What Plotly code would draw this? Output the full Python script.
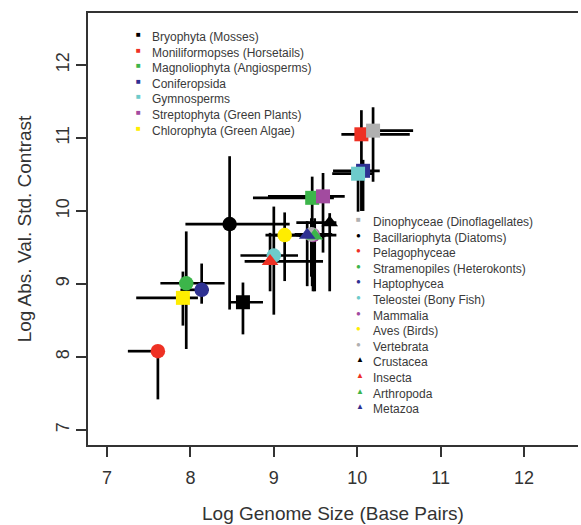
import plotly.graph_objects as go

# ---- data -------------------------------------------------------------
names = [
    "Bryophyta (Mosses)", "Moniliformopses (Horsetails)", "Magnoliophyta (Angiosperms)",
    "Coniferopsida", "Gymnosperms", "Streptophyta (Green Plants)", "Chlorophyta (Green Algae)",
    "Dinophyceae (Dinoflagellates)", "Bacillariophyta (Diatoms)", "Pelagophyceae",
    "Stramenopiles (Heterokonts)", "Haptophycea", "Teleostei (Bony Fish)", "Mammalia",
    "Aves (Birds)", "Vertebrata", "Crustacea", "Insecta", "Arthropoda", "Metazoa",
]
colors = [
    "#000000", "#EE3124", "#3CB54A", "#2E3192", "#6DCBCB", "#A24B9F", "#FFED00",
    "#B0B0B0", "#000000", "#EE3124", "#3CB54A", "#2E3192", "#6DCBCB", "#A24B9F",
    "#FFED00", "#B0B0B0", "#000000", "#EE3124", "#3CB54A", "#2E3192",
]
symbols = ["square"] * 8 + ["circle"] * 8 + ["triangle-up"] * 4
legend_group = [1] * 7 + [2] * 13

genome = [8.63, 10.05, 9.46, 10.07, 10.01, 9.59, 7.91,
          10.19, 8.47, 7.61, 7.95, 8.135, 9.00, 9.47,
          9.13, 9.45, 9.67, 8.955, 9.49, 9.40]
contrast = [8.75, 11.05, 10.18, 10.55, 10.51, 10.20, 8.81,
            11.10, 9.82, 8.08, 9.01, 8.92, 9.39, 9.67,
            9.67, 9.68, 9.84, 9.31, 9.66, 9.67]
genome_lo = [8.47, 9.81, 8.75, 9.71, 9.70, 8.93, 7.35,
             10.00, 7.94, 7.25, 7.64, 7.88, 8.60, 9.27,
             9.00, 9.25, 9.27, 8.65, 9.30, 8.90]
genome_hi = [8.87, 10.63, 9.72, 10.27, 10.20, 9.85, 8.09,
             10.67, 9.19, 7.61, 8.41, 8.22, 9.29, 9.75,
             9.50, 9.70, 9.75, 9.59, 9.62, 9.67]
contrast_lo = [8.31, 10.00, 8.97, 10.00, 9.99, 9.43, 8.43,
               10.40, 8.65, 7.42, 8.11, 8.73, 8.58, 8.90,
               9.04, 9.10, 8.90, 8.90, 8.90, 8.97]
contrast_hi = [9.02, 11.38, 10.47, 10.70, 10.62, 10.52, 9.17,
               11.42, 10.75, 8.08, 9.72, 9.28, 10.06, 9.86,
               9.98, 9.90, 9.97, 9.70, 9.90, 9.86]

x_ticks = [7, 8, 9, 10, 11, 12]
y_ticks = [7, 8, 9, 10, 11, 12]

# ---- figure -----------------------------------------------------------
AX = "#333333"
fig = go.Figure()

# error bars (drawn first so that all markers sit on top)
fig.add_trace(go.Scatter(
    x=genome, y=contrast, mode="markers",
    marker=dict(size=1, color="rgba(0,0,0,0)"),
    error_x=dict(type="data", symmetric=False,
                 array=[h - v for h, v in zip(genome_hi, genome)],
                 arrayminus=[v - l for v, l in zip(genome, genome_lo)],
                 color="#000000", thickness=2.7, width=0),
    error_y=dict(type="data", symmetric=False,
                 array=[h - v for h, v in zip(contrast_hi, contrast)],
                 arrayminus=[v - l for v, l in zip(contrast, contrast_lo)],
                 color="#000000", thickness=2.7, width=0),
    showlegend=False, hoverinfo="skip",
))

size_of = {"square": 14, "circle": 14.5, "triangle-up": 14.5}
for i, n in enumerate(names):
    fig.add_trace(go.Scatter(
        x=[genome[i]], y=[contrast[i]], mode="markers", name=n,
        marker=dict(symbol=symbols[i], color=colors[i], size=size_of[symbols[i]],
                    line=dict(width=0)),
        showlegend=False,
    ))

# ---- legends as text blocks --------------------------------------------
glyph = {"square": "\u25A0", "circle": "\u25CF", "triangle-up": "\u25B2"}
L, R, T, B = 88, 3, 13, 80
W, H = 581, 525
pw, ph = W - L - R, H - T - B
X_RANGE = [6.772, 12.683 - 3 / 83.4]


def px(xp):
    return (xp - L) / pw


def py(yp):
    return (H - B - yp) / ph


def legend_block(group, sym_x, text_x, top_y):
    idx = [i for i in range(len(names)) if legend_group[i] == group]
    sym_txt = "<br>".join(
        f"<span style='color:{colors[i]};font-size:8px'>{glyph[symbols[i]]}</span>" for i in idx)
    lab_txt = "<br>".join(names[i] for i in idx)
    common = dict(xref="paper", yref="paper", showarrow=False, yanchor="top",
                  align="left", borderpad=0,
                  font=dict(family="Liberation Sans, Arial, sans-serif", size=12, color="#3a3a3a"))
    fig.add_annotation(x=px(sym_x), y=py(top_y), text=sym_txt, xanchor="center", **common)
    fig.add_annotation(x=px(text_x), y=py(top_y), text=lab_txt, xanchor="left", **common)


legend_block(1, 138, 151, 29)
legend_block(2, 360, 372, 214)

fig.update_layout(
    width=W, height=H,
    margin=dict(l=L, r=R, t=T, b=B, autoexpand=False),
    plot_bgcolor="white", paper_bgcolor="white",
    font=dict(family="Liberation Sans, Arial, sans-serif", color=AX),
    showlegend=False,
)
fig.update_xaxes(
    range=X_RANGE, tickvals=x_ticks, ticktext=[str(v) for v in x_ticks],
    ticks="outside", ticklen=10, tickwidth=2, tickcolor=AX,
    showline=True, linewidth=2, linecolor=AX, mirror=True,
    showgrid=False, zeroline=False, ticklabelstandoff=5, automargin=False,
    tickfont=dict(size=18, color=AX),
    title=dict(text="Log Genome Size (Base Pairs)", font=dict(size=19, color=AX), standoff=20),
)
fig.update_yaxes(
    range=[6.795, 12.711], tickvals=y_ticks, ticktext=[str(v) for v in y_ticks],
    ticks="outside", ticklen=10, tickwidth=2, tickcolor=AX, tickangle=-90,
    showline=True, linewidth=2, linecolor=AX, mirror=False,
    showgrid=False, zeroline=False, automargin=False,
    tickfont=dict(size=18, color=AX),
    title=dict(text="Log Abs. Val. Std. Contrast", font=dict(size=19, color=AX), standoff=16),
)

fig.write_html(
    "out.html", config={"displayModeBar": False},
    post_script=("document.documentElement.style.overflow='hidden';"
                 "document.body.style.margin='0px';document.body.style.overflow='hidden';"),
)
